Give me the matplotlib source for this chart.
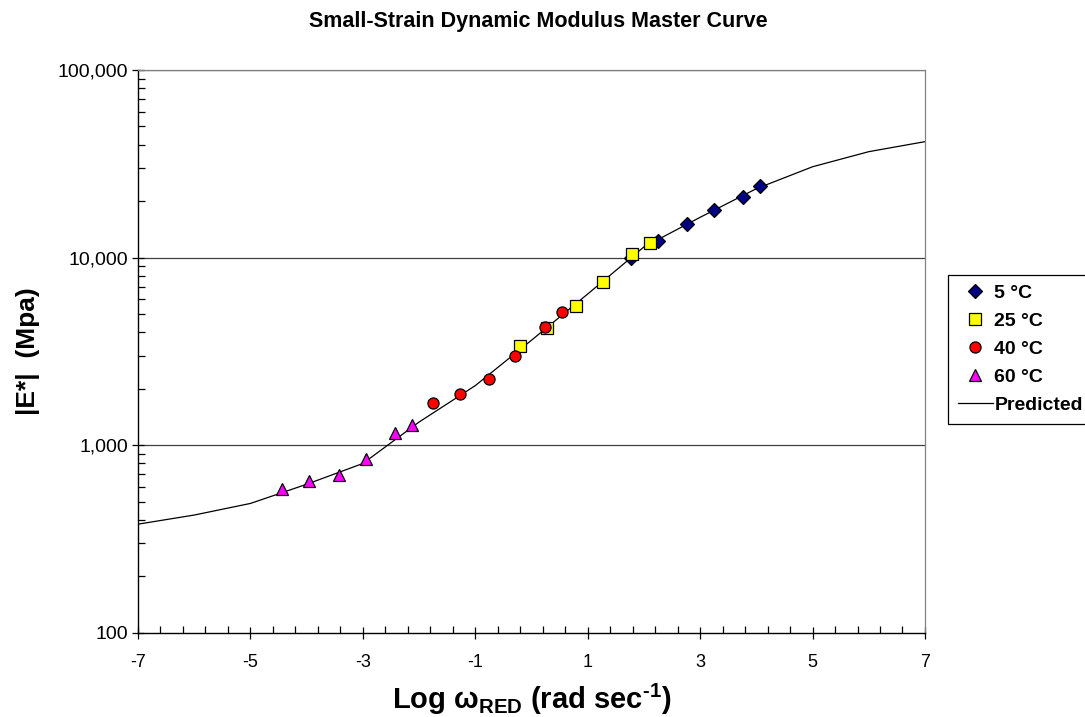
import matplotlib
matplotlib.use("Agg")
import matplotlib.pyplot as plt
from matplotlib.ticker import FixedLocator, FuncFormatter, LogLocator, NullFormatter

plt.rcParams["font.family"] = ["Liberation Sans", "DejaVu Sans"]
plt.rcParams["axes.unicode_minus"] = False
plt.rcParams["mathtext.fontset"] = "custom"
plt.rcParams["mathtext.rm"] = "Liberation Sans:bold"
plt.rcParams["mathtext.bf"] = "Liberation Sans:bold"
plt.rcParams["mathtext.it"] = "Liberation Sans:italic"

# 測得資料
x_5c = [1.77, 2.25, 2.77, 3.24, 3.76, 4.07]
e_5c = [9930, 12230, 15180, 17880, 21150, 24000]

x_25c = [-0.20, 0.28, 0.79, 1.27, 1.79, 2.10]
e_25c = [3390, 4210, 5510, 7450, 10470, 12020]

x_40c = [-1.76, -1.28, -0.76, -0.29, 0.24, 0.54]
e_40c = [1675, 1885, 2258, 2984, 4257, 5157]

x_60c = [-4.43, -3.95, -3.43, -2.95, -2.43, -2.13]
e_60c = [583, 649, 695, 847, 1159, 1289]

x_pred = [-7, -6, -5, -4, -3, -2, -1, 0, 1, 2, 3, 4, 5, 6, 7]
e_pred = [380, 425, 490, 620, 800, 1330, 2080, 3630, 6400, 11400, 16400, 23300, 30500, 36700, 41500]

fig = plt.figure(figsize=(10.85, 7.17), dpi=100)
ax = fig.add_axes([0.1272, 0.1172, 0.7253, 0.7852])

ax.plot(x_pred, e_pred, color="black", lw=0.9, label="Predicted", zorder=2)
ax.plot(x_5c, e_5c, ls="none", marker="D", ms=7.5, mfc="#000080", mec="black", mew=0.9, label="5 °C", zorder=3)
ax.plot(x_25c, e_25c, ls="none", marker="s", ms=8.5, mfc="#FFFF00", mec="black", mew=0.9, label="25 °C", zorder=3)
ax.plot(x_40c, e_40c, ls="none", marker="o", ms=8, mfc="#FF0000", mec="black", mew=0.9, label="40 °C", zorder=4)
ax.plot(x_60c, e_60c, ls="none", marker="^", ms=8.5, mfc="#FF00FF", mec="black", mew=0.9, label="60 °C", zorder=3)

ax.set_yscale("log")
ax.set_xlim(-7, 7)
ax.set_ylim(100, 100000)

ax.xaxis.set_major_locator(FixedLocator([-7, -5, -3, -1, 1, 3, 5, 7]))
ax.xaxis.set_minor_locator(FixedLocator([-7 + 0.4 * i for i in range(36)]))
ax.yaxis.set_major_locator(FixedLocator([100, 1000, 10000, 100000]))
ax.yaxis.set_major_formatter(FuncFormatter(lambda v, p: f"{int(v):,}"))
ax.yaxis.set_minor_locator(LogLocator(base=10, subs=range(2, 10)))
ax.yaxis.set_minor_formatter(NullFormatter())
ax.tick_params(which="major", direction="inout", length=8, width=0.9, color="black")
ax.tick_params(which="minor", direction="in", length=5, width=0.9, color="black")
ax.tick_params(axis="x", which="major", labelsize=13, pad=11)
ax.tick_params(axis="y", which="major", labelsize=14, pad=3)

for v in [1000, 10000, 100000]:
    ax.axhline(v, color="#404040", lw=0.9, zorder=1)

for side in ["top", "right"]:
    ax.spines[side].set_color("#808080")
    ax.spines[side].set_linewidth(0.9)
for side in ["left", "bottom"]:
    ax.spines[side].set_color("black")
    ax.spines[side].set_linewidth(1.0)

fig.text(0.496, 1 - 27 / 717, "Small-Strain Dynamic Modulus Master Curve",
         ha="center", va="baseline", fontsize=15.5, fontweight="bold")
ax.set_xlabel(r"Log $\mathbf{\omega_{RED}}$ (rad sec$^{\text{-1}}$)", fontsize=21, fontweight="bold", labelpad=8)
ax.set_ylabel("|E*|  (Mpa)", fontsize=19, fontweight="bold", labelpad=13)

handles, labels = ax.get_legend_handles_labels()
order = [1, 2, 3, 4, 0]
leg = ax.legend([handles[i] for i in order], [labels[i] for i in order],
                loc="upper left", bbox_to_anchor=(1.029, 0.636), borderaxespad=0,
                frameon=True, fancybox=False, edgecolor="black", framealpha=1,
                prop={"weight": "bold", "size": 14}, handlelength=1.8,
                labelspacing=0.53, handletextpad=0.1, borderpad=0.5, markerscale=1.0)
leg.get_frame().set_linewidth(0.9)

fig.savefig("out.png", dpi=100)
